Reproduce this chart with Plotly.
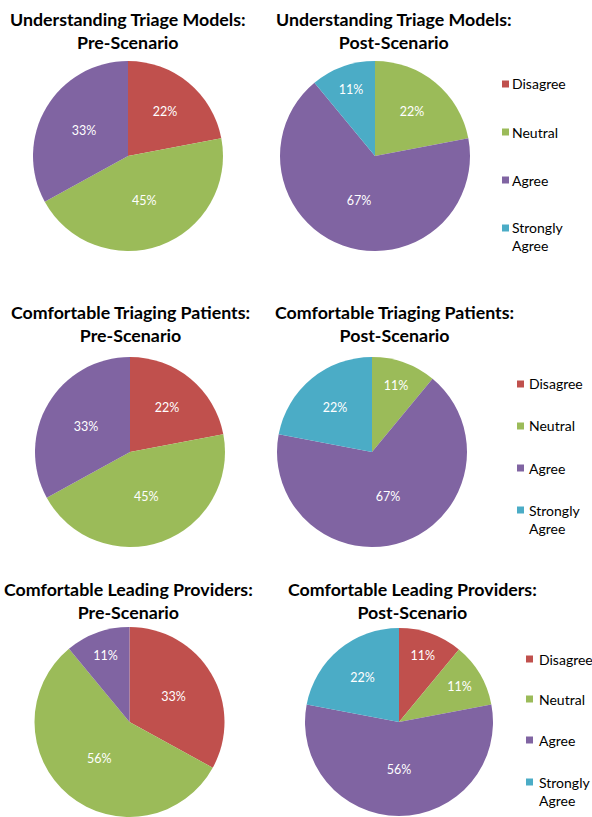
import plotly.graph_objects as go

categories = ["Disagree", "Neutral", "Agree", "Strongly Agree"]
legend_labels = ["Disagree", "Neutral", "Agree", "Strongly<br>Agree"]
colors = ["#C0504D", "#9BBB59", "#8064A2", "#4BACC6"]

titles = [
    "Understanding Triage Models:<br>Pre-Scenario",
    "Understanding Triage Models:<br>Post-Scenario",
    "Comfortable Triaging Patients:<br>Pre-Scenario",
    "Comfortable Triaging Patients:<br>Post-Scenario",
    "Comfortable Leading Providers:<br>Pre-Scenario",
    "Comfortable Leading Providers:<br>Post-Scenario",
]

models_pre = [22, 45, 33, 0]
models_post = [0, 22, 67, 11]
triaging_pre = [22, 45, 33, 0]
triaging_post = [0, 11, 67, 22]
leading_pre = [33, 56, 11, 0]
leading_post = [11, 11, 56, 22]
series = [models_pre, models_post, triaging_pre, triaging_post, leading_pre, leading_post]

W, H = 592, 817
# layout: pie centres / radii in pixels
pie_geo = [(128, 156, 95), (375, 156, 95),
           (130, 452, 95), (372, 452, 95),
           (129.5, 722, 95), (399, 722, 94)]
title_pos = [(128, 30), (394, 30), (130, 323), (394, 323), (128, 600), (412, 600)]
legend_geo = [  # swatch x, text x, item y list
    (502, 510, [84, 132, 180, 237]),
    (517, 527, [384, 426, 468, 519]),
    (526, 537, [659, 699, 740, 791]),
]

fig = go.Figure()
for vals, (cx, cy, r) in zip(series, pie_geo):
    text = [f"{v}%" if v > 0 else "" for v in vals]
    fig.add_trace(go.Pie(
        labels=categories, values=vals, text=text,
        texttemplate="%{text}", textposition="inside",
        insidetextorientation="horizontal",
        textfont=dict(family="Lato", size=12.5, color="white"),
        marker=dict(colors=colors, line=dict(width=0)),
        sort=False, direction="clockwise", rotation=0,
        showlegend=False, hoverinfo="label+percent",
        domain=dict(x=[(cx - r) / W, (cx + r) / W],
                    y=[1 - (cy + r) / H, 1 - (cy - r) / H]),
    ))

annotations = []
for t, (x, y) in zip(titles, title_pos):
    annotations.append(dict(
        text=f"<b>{t}</b>", x=x / W, y=1 - y / H, xref="paper", yref="paper",
        showarrow=False, xanchor="center", yanchor="middle", align="center",
        font=dict(family="Lato", size=17.8, color="black")))

shapes = []
for sx, tx, ys in legend_geo:
    for lab, col, y in zip(legend_labels, colors, ys):
        first_line_y = y - 9 if "<br>" in lab else y
        shapes.append(dict(type="rect", xref="paper", yref="paper",
                           x0=sx / W, x1=(sx + 7) / W,
                           y0=1 - (first_line_y + 3.5) / H, y1=1 - (first_line_y - 3.5) / H,
                           fillcolor=col, line=dict(width=0)))
        annotations.append(dict(
            text=lab, x=tx / W, y=1 - y / H, xref="paper", yref="paper",
            showarrow=False, xanchor="left", yanchor="middle", align="left",
            font=dict(family="Lato", size=14, color="black")))

fig.update_layout(
    width=W, height=H, margin=dict(l=0, r=0, t=0, b=0),
    paper_bgcolor="white", plot_bgcolor="white",
    annotations=annotations, shapes=shapes, showlegend=False,
)
fig.write_html("out.html", config={"displayModeBar": False},
               post_script="document.body.style.margin='0';document.body.style.overflow='hidden';")
